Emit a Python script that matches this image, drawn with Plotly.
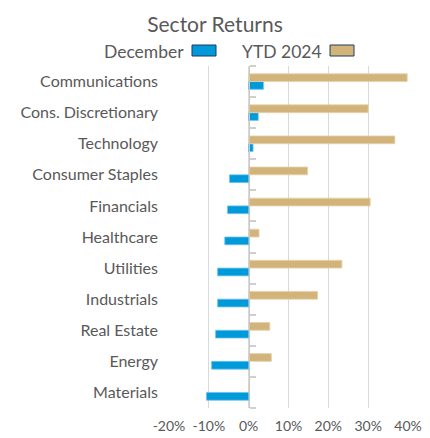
import plotly.graph_objects as go

sectors = ["Communications", "Cons. Discretionary", "Technology", "Consumer Staples",
           "Financials", "Healthcare", "Utilities", "Industrials", "Real Estate",
           "Energy", "Materials"]
december = [3.7, 2.4, 1.1, -4.8, -5.3, -6.0, -7.8, -7.8, -8.3, -9.3, -10.6]
ytd_2024 = [39.8, 30.0, 36.7, 14.8, 30.5, 2.6, 23.4, 17.3, 5.3, 5.7, 0.0]
x_ticks = [-20, -10, 0, 10, 20, 30, 40]
x_tick_labels = ["-20%", "-10%", "0%", "10%", "20%", "30%", "40%"]
x_min, x_max = -20, 40

BLUE = "#0099DA"
TAN = "#D2B47A"
TXT = "#595959"
FONT = "Lato"

OFF = 8  # page body margin
W, H = 430 - OFF, 438 - OFF
L, R, T, B = 169 - OFF, 22, 66 - OFF, 30

fig = go.Figure()
fig.add_trace(go.Bar(y=sectors, x=december, orientation="h", name="December",
                     marker=dict(color=BLUE, line=dict(color="#6cc4ec", width=0.8))))
fig.add_trace(go.Bar(y=sectors, x=ytd_2024, orientation="h", name="YTD 2024",
                     marker=dict(color=TAN, line=dict(color="#e6d2aa", width=0.8))))
# helper (invisible) trace so the category axis crossing at 0 is drawn
fig.add_trace(go.Scatter(y=sectors, x=[0] * len(sectors), yaxis="y2", mode="markers",
                         marker=dict(opacity=0, size=1), hoverinfo="skip", showlegend=False))

pw = W - L - R
ph = H - T - B
def px2paper(px):
    return (px - OFF - L) / pw
def py2paper(py):
    return 1 - (py - OFF - T) / ph

# legend with swatch after text
legend_items = [("December", 186, 192, BLUE), ("YTD 2024", 324, 330, TAN)]
for text, text_right, sw_left, col in legend_items:
    fig.add_annotation(text=text, x=px2paper(text_right), y=py2paper(52), xref="paper", yref="paper",
                       xanchor="right", yanchor="middle", showarrow=False,
                       font=dict(family=FONT, size=17.5, color=TXT))
    fig.add_shape(type="rect", xref="paper", yref="paper",
                  x0=px2paper(sw_left), x1=px2paper(sw_left + 24),
                  y0=py2paper(56), y1=py2paper(45),
                  fillcolor=col, line=dict(color="#1f3b5a", width=1))

y_range = [-0.5, len(sectors) - 0.5]

fig.update_layout(
    width=W, height=H,
    margin=dict(l=L, r=R, t=T, b=B),
    paper_bgcolor="white", plot_bgcolor="white",
    barmode="group", bargap=0.5, bargroupgap=0.0,
    showlegend=False,
    title=dict(text="Sector Returns", x=(215 - OFF) / W, xanchor="center",
               y=1 - (25 - OFF) / H, yanchor="middle",
               font=dict(family=FONT, size=21, color=TXT)),
    font=dict(family=FONT, size=16, color=TXT),
    xaxis=dict(range=[x_min, x_max], tickvals=x_ticks, ticktext=x_tick_labels,
               automargin=False,
               showgrid=True, gridcolor="#d9d9d9", gridwidth=1,
               zeroline=False,
               showline=False, ticks="", ticklabelstandoff=8,
               tickfont=dict(family=FONT, size=14, color=TXT)),
    yaxis=dict(categoryorder="array", categoryarray=sectors[::-1], range=y_range,
               automargin=False,
               showgrid=False, zeroline=False, showline=False, ticks="",
               ticklabelstandoff=10,
               tickfont=dict(family=FONT, size=16, color=TXT)),
    yaxis2=dict(overlaying="y", anchor="free",
                position=(0 - x_min) / (x_max - x_min), side="right",
                categoryorder="array", categoryarray=sectors[::-1], range=y_range,
                automargin=False, showgrid=False, zeroline=False,
                showline=True, linecolor="#c8c8c8", linewidth=1,
                ticks="outside", tickson="boundaries", ticklen=6,
                tickcolor="#cfcfcf", tickwidth=1.5, showticklabels=False),
)

fig.write_html("out.html")
